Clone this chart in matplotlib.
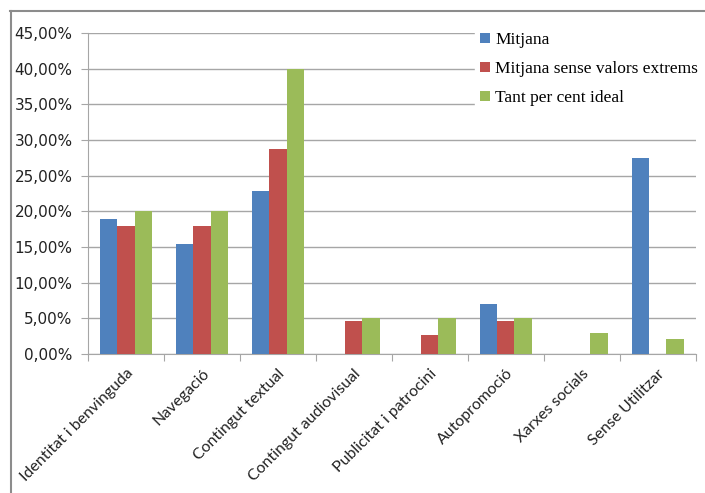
import matplotlib.pyplot as plt
import numpy as np
from matplotlib.lines import Line2D
from matplotlib.ticker import FuncFormatter, FixedLocator

# ── Data ──────────────────────────────────────────────────────────────────────
categories = [
    "Identitat i benvinguda", "Navegació", "Contingut textual",
    "Contingut audiovisual", "Publicitat i patrocini", "Autopromoció",
    "Xarxes socials", "Sense Utilitzar",
]
mitjana        = [18.9, 15.4, 22.9, 0.0, 0.0, 7.0, 0.0, 27.5]
mitjana_sense  = [17.9, 17.9, 28.7, 4.6, 2.7, 4.6, 0.0, 0.0]
ideal          = [20.0, 20.0, 40.0, 5.0, 5.0, 5.0, 3.0, 2.1]
series_labels  = ["Mitjana", "Mitjana sense valors extrems", "Tant per cent ideal"]
y_ticks        = [0, 5, 10, 15, 20, 25, 30, 35, 40, 45]

# ── Style ─────────────────────────────────────────────────────────────────────
BLUE  = "#4F81BD"
RED   = "#C0504D"
GREEN = "#9BBB59"
GRID  = "#A6A6A6"
SERIF = ["Liberation Serif", "DejaVu Serif"]

fig = plt.figure(figsize=(7.05, 4.93), dpi=100)
ax = fig.add_axes([88 / 705, 1 - 354 / 493, (695.7 - 88) / 705, (354 - 33) / 493])

x = np.arange(len(categories))
w = 0.227
colors = [BLUE, RED, GREEN]
for i, (vals, col, lbl) in enumerate(zip([mitjana, mitjana_sense, ideal], colors, series_labels)):
    ax.bar(x + (i - 1) * w, vals, width=w, color=col, label=lbl, zorder=3)

ax.set_xlim(-0.5, len(categories) - 0.5)
ax.set_ylim(0, 45)
ax.yaxis.set_major_locator(FixedLocator(y_ticks))
ax.yaxis.set_major_formatter(FuncFormatter(lambda v, p: f"{v:.2f}%".replace(".", ",")))
ax.grid(axis="y", color=GRID, linewidth=1.0, zorder=0)
ax.set_axisbelow(True)

# category ticks at group boundaries, labels centred under groups
ax.set_xticks(np.arange(len(categories) + 1) - 0.5)
ax.set_xticklabels([])
ax.set_xticks(x, minor=True)
ax.set_xticklabels(categories, minor=True, rotation=45, ha="right",
                   rotation_mode="anchor", fontsize=11.4,
                   family=["Lato", "DejaVu Sans"], color="#222222")
ax.tick_params(axis="x", which="minor", length=0, pad=9)
ax.tick_params(axis="x", which="major", length=5, color=GRID, direction="out")
ax.tick_params(axis="y", length=5, color=GRID, labelsize=11, pad=6,
               labelcolor="#222222")

for side in ["top", "right"]:
    ax.spines[side].set_visible(False)
ax.spines["left"].set_color(GRID)
ax.spines["bottom"].set_color(GRID)

leg = ax.legend(loc="upper left", bbox_to_anchor=(475 / 705, 1 - 27 / 493),
                bbox_transform=fig.transFigure, frameon=True, fancybox=False,
                edgecolor="white", facecolor="white", framealpha=1,
                prop={"family": SERIF, "size": 12.5}, handlelength=0.55,
                handleheight=0.55, handletextpad=0.3, labelspacing=0.75,
                borderpad=0.3, borderaxespad=0)
leg.set_zorder(10)

# outer chart border (left and top edges visible)
fig.add_artist(Line2D([10.5 / 705, 10.5 / 705], [0, 1 - 11 / 493],
                      transform=fig.transFigure, color="#8C8C8C", lw=1.5))
fig.add_artist(Line2D([10 / 705, 1], [1 - 11 / 493, 1 - 11 / 493],
                      transform=fig.transFigure, color="#8C8C8C", lw=1.5))

fig.savefig("out.png", dpi=100, facecolor="white")
